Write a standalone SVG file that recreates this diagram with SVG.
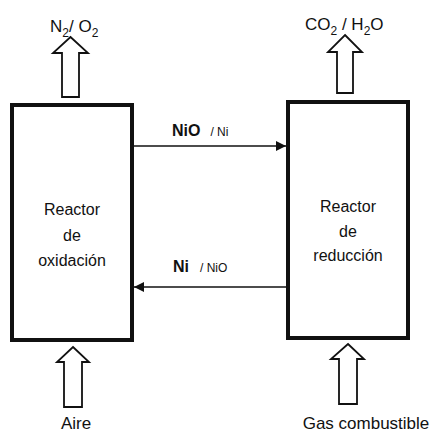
<svg xmlns="http://www.w3.org/2000/svg" width="430" height="434" viewBox="0 0 430 434">
<style>
  text { font-family: "Liberation Sans", Arial, sans-serif; fill: #111; }
  .box { fill: #fff; stroke: #111; stroke-width: 4; }
  .flow { fill: #fff; stroke: #111; stroke-width: 1.8; stroke-linejoin: miter; }
  .conn { fill: none; stroke: #111; stroke-width: 1.6; }
  .lbl { font-size: 16px; text-anchor: middle; }
  .io { font-size: 17px; }
  .bold { font-size: 16px; font-weight: bold; }
  .small { font-size: 12px; }
</style>
<defs>
  <marker id="ah" viewBox="0 0 10 10" refX="10" refY="5" markerWidth="10" markerHeight="10" markerUnits="userSpaceOnUse" orient="auto">
    <path d="M0,0 L10,5 L0,10 Z" fill="#111"/>
  </marker>
</defs>
<rect width="430" height="434" fill="#fff"/>

<g id="reactor-oxidacion">
  <rect class="box" x="12" y="105" width="120" height="235"/>
  <text class="lbl" x="72" y="215">Reactor</text>
  <text class="lbl" x="72" y="241">de</text>
  <text class="lbl" x="72" y="266">oxidación</text>
</g>

<g id="reactor-reduccion">
  <rect class="box" x="288" y="102" width="120" height="236"/>
  <text class="lbl" x="348" y="212">Reactor</text>
  <text class="lbl" x="348" y="237">de</text>
  <text class="lbl" x="348" y="261">reducción</text>
</g>

<g id="salida-n2o2">
  <polygon class="flow" points="70.5,37 88,53 79,53 79,97 62,97 62,53 53,53"/>
  <text class="io" x="50" y="32">N<tspan font-size="12" dy="5">2</tspan><tspan dy="-5">/ O</tspan><tspan font-size="12" dy="5">2</tspan></text>
</g>

<g id="salida-co2h2o">
  <polygon class="flow" points="345,35 362,52 353,52 353,93 337,93 337,52 328,52"/>
  <text class="io" x="305" y="30">CO<tspan font-size="12" dy="5">2</tspan><tspan dy="-5"> / H</tspan><tspan font-size="12" dy="5">2</tspan><tspan dy="-5">O</tspan></text>
</g>

<g id="entrada-aire">
  <polygon class="flow" points="73,347 89,362 82,362 82,407 64,407 64,362 57,362"/>
  <text class="io" x="76" y="429" text-anchor="middle">Aire</text>
</g>

<g id="entrada-gas">
  <polygon class="flow" points="348,344 364,359 357,359 357,404 339,404 339,359 331,359"/>
  <text class="io" x="366" y="429" text-anchor="middle">Gas combustible</text>
</g>

<g id="connectors">
  <line class="conn" x1="134" y1="146" x2="286" y2="146" marker-end="url(#ah)"/>
  <line class="conn" x1="286" y1="287" x2="134" y2="287" marker-end="url(#ah)"/>
</g>

<g id="labels">
  <text x="172" y="136"><tspan class="bold">NiO</tspan><tspan class="small" dx="10">/ Ni</tspan></text>
  <text x="173" y="272"><tspan class="bold">Ni</tspan><tspan class="small" dx="11">/ NiO</tspan></text>
</g>
</svg>
